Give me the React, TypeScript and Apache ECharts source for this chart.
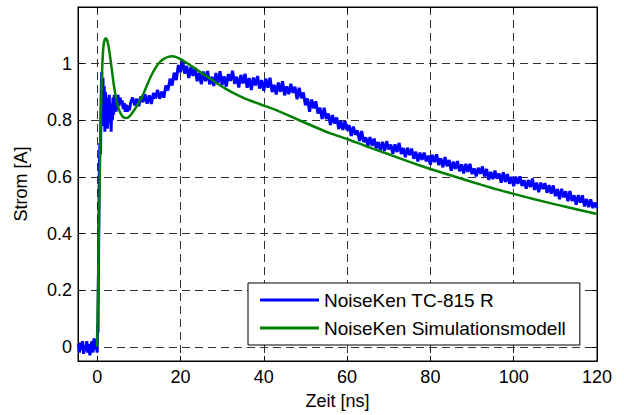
import React, { useEffect, useRef } from "react";
import * as echarts from "echarts";

// ---- Data ----
const xTickLabels = ["0", "20", "40", "60", "80", "100", "120"];
const yTickLabels = ["0", "0.2", "0.4", "0.6", "0.8", "1"];

const seriesNames = ["NoiseKen TC-815 R", "NoiseKen Simulationsmodell"];

// Measured current (noisy), early part with explicit time stamps [ns]
const blueEarlyTime = [
  -4.5, -4.25, -4.0, -3.75, -3.5, -3.25, -3.0, -2.75, -2.5, -2.25, -2.0, -1.75, -1.5, -1.25, -1.0, -0.75, -0.5, -0.25, 0,
  0.1, 0.2, 0.35, 0.5, 0.65, 0.8, 0.95, 1.1, 1.25, 1.4, 1.55, 1.7, 1.85, 2.0, 2.15, 2.3, 2.45, 2.6, 2.75, 2.9, 3.05,
  3.2, 3.35, 3.5, 3.65, 3.8, 3.95, 4.1, 4.25, 4.4, 4.55, 4.7, 4.85, 5.0, 5.25, 5.5, 5.75, 6.0, 6.25, 6.5, 6.75,
  7.0, 7.25, 7.5, 7.75, 8.0,
];
const blueEarlyValue = [
  0.01, -0.02, 0.015, -0.01, 0.02, -0.025, 0.005, -0.015, 0.02, -0.02, 0.01, -0.03, 0.0, 0.02, -0.02, 0.03, -0.01, 0.025, -0.02,
  0.08, 0.05, 0.35, 0.6, 0.72, 0.68, 0.88, 0.97, 0.82, 0.95, 0.78, 0.92, 0.76, 0.9, 0.8, 0.88, 0.77, 0.86, 0.79, 0.89, 0.8,
  0.86, 0.76, 0.85, 0.8, 0.88, 0.82, 0.89, 0.84, 0.88, 0.83, 0.87, 0.85, 0.89, 0.85, 0.88, 0.86, 0.87, 0.84, 0.86, 0.83,
  0.855, 0.83, 0.85, 0.835, 0.86,
];
// Measured current, later part sampled every 0.5 ns starting at 8.5 ns
const blueLateStart = 8.5;
const blueLateStep = 0.5;
const blueLateValue = [
  0.88, 0.853, 0.876, 0.85, 0.885, 0.864, 0.892, 0.859, 0.888, 0.858, 0.896, 0.877, 0.907, 0.876, 0.901, 0.88, 0.923, 0.905, 0.947, 0.923,
  0.968, 0.942, 0.995, 0.97, 1.014, 0.965, 0.992, 0.949, 0.988, 0.957, 0.986, 0.938, 0.967, 0.927, 0.972, 0.938, 0.974, 0.927, 0.953, 0.921,
  0.967, 0.931, 0.973, 0.925, 0.955, 0.919, 0.963, 0.939, 0.975, 0.929, 0.954, 0.916, 0.96, 0.93, 0.964, 0.915, 0.949, 0.907, 0.951, 0.923,
  0.956, 0.912, 0.942, 0.904, 0.947, 0.915, 0.95, 0.9, 0.925, 0.891, 0.933, 0.901, 0.938, 0.888, 0.92, 0.892, 0.929, 0.897, 0.918, 0.874,
  0.915, 0.878, 0.898, 0.853, 0.877, 0.83, 0.873, 0.842, 0.867, 0.824, 0.844, 0.805, 0.844, 0.805, 0.824, 0.783, 0.818, 0.789, 0.81, 0.769,
  0.798, 0.766, 0.797, 0.765, 0.782, 0.745, 0.778, 0.749, 0.764, 0.727, 0.762, 0.723, 0.74, 0.71, 0.741, 0.71, 0.735, 0.701, 0.723, 0.694,
  0.724, 0.692, 0.726, 0.697, 0.714, 0.682, 0.715, 0.688, 0.72, 0.681, 0.702, 0.67, 0.703, 0.677, 0.7, 0.664, 0.689, 0.655, 0.686, 0.66,
  0.686, 0.655, 0.675, 0.643, 0.678, 0.652, 0.68, 0.642, 0.666, 0.634, 0.67, 0.638, 0.66, 0.622, 0.654, 0.628, 0.656, 0.62, 0.644, 0.612,
  0.646, 0.618, 0.646, 0.61, 0.63, 0.602, 0.632, 0.611, 0.637, 0.602, 0.628, 0.59, 0.618, 0.592, 0.622, 0.594, 0.612, 0.58, 0.616, 0.582,
  0.61, 0.576, 0.6, 0.567, 0.601, 0.576, 0.602, 0.568, 0.588, 0.559, 0.589, 0.564, 0.594, 0.554, 0.58, 0.546, 0.58, 0.557, 0.578, 0.544,
  0.571, 0.541, 0.57, 0.532, 0.557, 0.521, 0.558, 0.528, 0.549, 0.514, 0.55, 0.515, 0.535, 0.502, 0.536, 0.509, 0.535, 0.496, 0.522, 0.493,
  0.521, 0.49, 0.51, 0.49,
];

// Simulation model
const greenTime = [
  0, 0.2, 0.4, 0.6, 0.9, 1.2, 1.5, 1.8, 2.1, 2.4, 2.8, 3.2, 3.6, 4, 4.5, 5, 5.5, 6, 6.5, 7, 7.5, 8, 9, 10, 11, 12, 13, 14,
  15, 16, 17, 18, 19, 20, 21, 22, 23, 24, 25, 27, 29, 31, 33, 35, 37, 40, 43, 47, 52, 56, 60, 65, 70, 75, 80, 85, 90, 95,
  100, 105, 110, 115, 120,
];
const greenValue = [
  0, 0.2, 0.4, 0.58, 0.82, 0.98, 1.06, 1.085, 1.09, 1.082, 1.055, 1.015, 0.97, 0.925, 0.88, 0.848, 0.828, 0.815, 0.809, 0.808,
  0.811, 0.818, 0.838, 0.862, 0.89, 0.925, 0.958, 0.985, 1.005, 1.017, 1.024, 1.026, 1.023, 1.016, 1.007, 0.998, 0.988, 0.978,
  0.968, 0.948, 0.928, 0.91, 0.894, 0.88, 0.868, 0.852, 0.836, 0.81, 0.778, 0.754, 0.734, 0.706, 0.68, 0.653, 0.628, 0.605,
  0.582, 0.56, 0.54, 0.521, 0.503, 0.486, 0.469,
];

const X_MIN = -4.6;
const X_MAX = 120;
const Y_MIN = -0.05;
const Y_MAX = 1.2;

const FONT = "'Liberation Sans', Arial, Helvetica, sans-serif";

export default function App() {
  const ref = useRef<HTMLDivElement>(null);

  useEffect(() => {
    if (!ref.current) return;
    const chart = echarts.init(ref.current, undefined, { renderer: "svg" });

    const blueData: [number, number][] = [];
    blueEarlyTime.forEach((t, i) => blueData.push([t, blueEarlyValue[i]]));
    blueLateValue.forEach((v, i) => blueData.push([blueLateStart + i * blueLateStep, v]));
    const greenData: [number, number][] = greenTime.map((t, i) => [t, greenValue[i]]);

    const xFmt = (v: number) => {
      const r = Math.round(v);
      if (Math.abs(v - r) > 1e-6) return "";
      const s = String(r);
      return xTickLabels.includes(s) ? s : "";
    };
    const yFmt = (v: number) => {
      const r = Math.round(v * 10) / 10;
      if (Math.abs(v - r) > 1e-6) return "";
      const s = String(r);
      return yTickLabels.includes(s) ? s : "";
    };

    const black = "#000";
    const gridLine = { show: true, showMinLine: false, showMaxLine: false, lineStyle: { color: "#333", width: 1, type: [8, 5] as any } };

    chart.setOption({
      animation: false,
      backgroundColor: "#fff",
      textStyle: { fontFamily: FONT },
      grid: {
        left: 78,
        right: 27,
        top: 7,
        bottom: 54,
        show: true,
        borderColor: black,
        borderWidth: 1,
        backgroundColor: "#fff",
      },
      legend: {
        data: seriesNames,
        orient: "vertical",
        left: 248,
        top: 283,
        padding: [7, 14, 7, 12],
        itemGap: 8,
        itemWidth: 59,
        itemHeight: 3,
        icon: "rect",
        borderColor: black,
        borderWidth: 1,
        backgroundColor: "#fff",
        borderRadius: 0,
        textStyle: { fontSize: 19, color: black, fontFamily: FONT, lineHeight: 20 },
      },
      xAxis: [
        {
          type: "value",
          min: X_MIN,
          max: X_MAX,
          minInterval: 20,
          maxInterval: 20,
          position: "bottom",
          name: "Zeit [ns]",
          nameLocation: "middle",
          nameGap: 31,
          nameTextStyle: { fontSize: 18, color: black, fontFamily: FONT },
          axisLine: { show: true, onZero: false, lineStyle: { color: black, width: 1 } },
          axisTick: { show: true, inside: true, length: 5, lineStyle: { color: black } },
          axisLabel: { formatter: xFmt, fontSize: 18, color: black, margin: 7, fontFamily: FONT },
          splitLine: gridLine,
        },
        {
          type: "value",
          min: X_MIN,
          max: X_MAX,
          minInterval: 20,
          maxInterval: 20,
          position: "top",
          axisLine: { show: true, onZero: false, lineStyle: { color: black, width: 1 } },
          axisTick: { show: true, inside: true, length: 5, lineStyle: { color: black } },
          axisLabel: { show: false },
          splitLine: { show: false },
        },
      ],
      yAxis: [
        {
          type: "value",
          min: Y_MIN,
          max: Y_MAX,
          minInterval: 0.2,
          maxInterval: 0.2,
          position: "left",
          name: "Strom [A]",
          nameLocation: "middle",
          nameGap: 48,
          nameTextStyle: { fontSize: 18, color: black, fontFamily: FONT },
          axisLine: { show: true, onZero: false, lineStyle: { color: black, width: 1 } },
          axisTick: { show: true, inside: true, length: 5, lineStyle: { color: black } },
          axisLabel: { formatter: yFmt, fontSize: 18, color: black, margin: 6, fontFamily: FONT },
          splitLine: gridLine,
        },
        {
          type: "value",
          min: Y_MIN,
          max: Y_MAX,
          minInterval: 0.2,
          maxInterval: 0.2,
          position: "right",
          axisLine: { show: true, onZero: false, lineStyle: { color: black, width: 1 } },
          axisTick: { show: true, inside: true, length: 5, lineStyle: { color: black } },
          axisLabel: { show: false },
          splitLine: { show: false },
        },
      ],
      series: [
        {
          name: seriesNames[0],
          type: "line",
          xAxisIndex: 0,
          yAxisIndex: 0,
          data: blueData,
          showSymbol: false,
          symbol: "none",
          lineStyle: { color: "#0000ff", width: 3, join: "bevel" },
          itemStyle: { color: "#0000ff" },
          z: 2,
        },
        {
          name: seriesNames[1],
          type: "line",
          xAxisIndex: 0,
          yAxisIndex: 0,
          data: greenData,
          showSymbol: false,
          symbol: "none",
          smooth: 0.2,
          lineStyle: { color: "#008000", width: 2.5 },
          itemStyle: { color: "#008000" },
          z: 3,
        },
      ],
    });

    return () => chart.dispose();
  }, []);

  return (
    <div
      ref={ref}
      style={{ position: "fixed", left: 0, top: 0, width: 624, height: 415, background: "#fff" }}
    />
  );
}
